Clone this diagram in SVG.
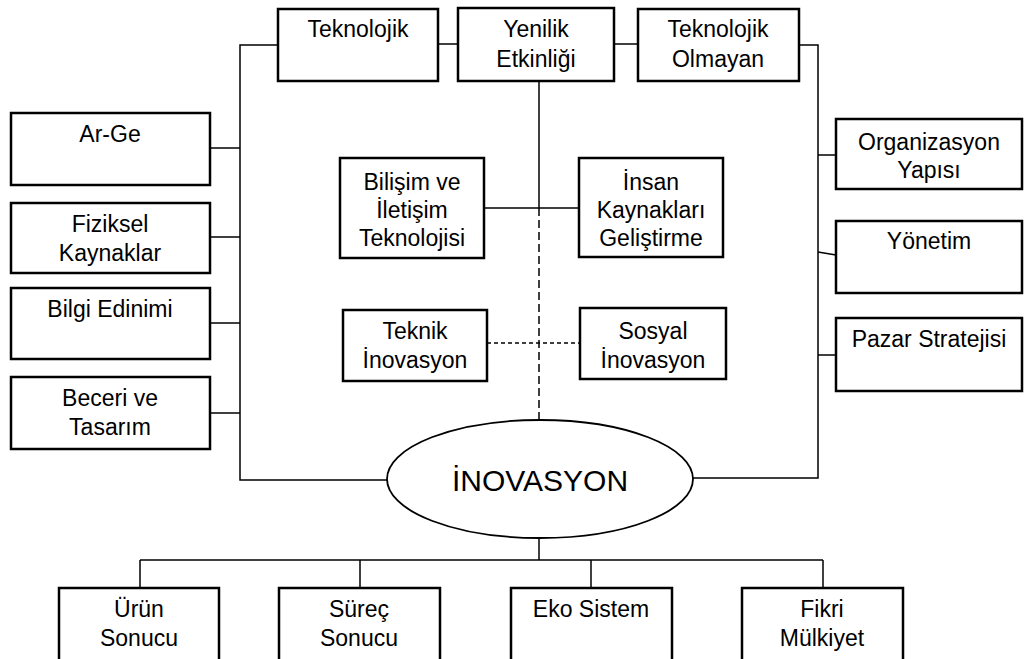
<svg xmlns="http://www.w3.org/2000/svg" width="1027" height="659" viewBox="0 0 1027 659">
  <style>
    .box { fill: #ffffff; stroke: #000000; stroke-width: 2.5; }
    .oval { fill: #ffffff; stroke: #000000; stroke-width: 1.8; }
    .lbl { font-family: "Liberation Sans", Arial, sans-serif; font-size: 23px; fill: #000000; text-anchor: middle; }
    .big { font-size: 30px; }
    .wire { fill: none; stroke: #000000; stroke-width: 1.5; }
    .dash-long { stroke-dasharray: 8 4; }
    .dash-short { stroke-dasharray: 4 3; }
  </style>

  <rect width="1027" height="659" fill="#ffffff"/>

  <!-- connectors -->
  <g id="connectors">
    <!-- left frame: top row to left column to the oval -->
    <path class="wire" d="M278 45 H240 V480 H387"/>
    <path class="wire" d="M438 44 H458"/>
    <path class="wire" d="M614 44 H638"/>
    <!-- right frame -->
    <path class="wire" d="M799 45 H818 V478 H693"/>
    <!-- left column branches -->
    <path class="wire" d="M210 148 H240"/>
    <path class="wire" d="M210 237 H240"/>
    <path class="wire" d="M210 323 H240"/>
    <path class="wire" d="M210 413 H240"/>
    <!-- right column branches -->
    <path class="wire" d="M818 155 H836"/>
    <path class="wire" d="M818 252 L836 255"/>
    <path class="wire" d="M818 355 H836"/>
    <!-- central axis -->
    <path class="wire" d="M539 81 V208"/>
    <path class="wire dash-long" d="M539 208 V420"/>
    <path class="wire" d="M484 208 H579"/>
    <path class="wire dash-short" d="M487 343 H580"/>
    <!-- outcomes bus -->
    <path class="wire" d="M539 538 V560"/>
    <path class="wire" d="M140 560 H823"/>
    <path class="wire" d="M140 560 V588"/>
    <path class="wire" d="M360 560 V588"/>
    <path class="wire" d="M591 560 V588"/>
    <path class="wire" d="M823 560 V588"/>
  </g>

  <!-- top row -->
  <g id="teknolojik">
    <rect class="box" x="278" y="9" width="160" height="72"/>
    <text class="lbl" x="358" y="37">Teknolojik</text>
  </g>
  <g id="yenilik-etkinligi">
    <rect class="box" x="458" y="8" width="156" height="73"/>
    <text class="lbl" x="536" y="37">Yenilik</text>
    <text class="lbl" x="536" y="67">Etkinliği</text>
  </g>
  <g id="teknolojik-olmayan">
    <rect class="box" x="638" y="9" width="161" height="72"/>
    <text class="lbl" x="718" y="37">Teknolojik</text>
    <text class="lbl" x="718" y="67">Olmayan</text>
  </g>

  <!-- left column -->
  <g id="ar-ge">
    <rect class="box" x="11" y="113" width="199" height="72"/>
    <text class="lbl" x="110" y="142">Ar-Ge</text>
  </g>
  <g id="fiziksel-kaynaklar">
    <rect class="box" x="11" y="203" width="199" height="70"/>
    <text class="lbl" x="110" y="232">Fiziksel</text>
    <text class="lbl" x="110" y="261">Kaynaklar</text>
  </g>
  <g id="bilgi-edinimi">
    <rect class="box" x="11" y="288" width="199" height="71"/>
    <text class="lbl" x="110" y="317">Bilgi Edinimi</text>
  </g>
  <g id="beceri-tasarim">
    <rect class="box" x="11" y="377" width="199" height="72"/>
    <text class="lbl" x="110" y="406">Beceri ve</text>
    <text class="lbl" x="110" y="435">Tasarım</text>
  </g>

  <!-- right column -->
  <g id="organizasyon-yapisi">
    <rect class="box" x="836" y="119" width="186" height="70"/>
    <text class="lbl" x="929" y="150">Organizasyon</text>
    <text class="lbl" x="929" y="178">Yapısı</text>
  </g>
  <g id="yonetim">
    <rect class="box" x="836" y="221" width="186" height="72"/>
    <text class="lbl" x="929" y="249">Yönetim</text>
  </g>
  <g id="pazar-stratejisi">
    <rect class="box" x="836" y="318" width="186" height="73"/>
    <text class="lbl" x="929" y="347">Pazar Stratejisi</text>
  </g>

  <!-- centre -->
  <g id="bilisim-iletisim">
    <rect class="box" x="340" y="158" width="144" height="100"/>
    <text class="lbl" x="412" y="190">Bilişim ve</text>
    <text class="lbl" x="412" y="218">İletişim</text>
    <text class="lbl" x="412" y="246">Teknolojisi</text>
  </g>
  <g id="insan-kaynaklari">
    <rect class="box" x="579" y="158" width="144" height="99"/>
    <text class="lbl" x="651" y="190">İnsan</text>
    <text class="lbl" x="651" y="218">Kaynakları</text>
    <text class="lbl" x="651" y="246">Geliştirme</text>
  </g>
  <g id="teknik-inovasyon">
    <rect class="box" x="343" y="310" width="144" height="71"/>
    <text class="lbl" x="415" y="339">Teknik</text>
    <text class="lbl" x="415" y="368">İnovasyon</text>
  </g>
  <g id="sosyal-inovasyon">
    <rect class="box" x="580" y="308" width="146" height="71"/>
    <text class="lbl" x="653" y="339">Sosyal</text>
    <text class="lbl" x="653" y="368">İnovasyon</text>
  </g>

  <!-- core -->
  <g id="inovasyon">
    <ellipse class="oval" cx="540" cy="479" rx="153" ry="59"/>
    <text class="lbl big" x="540" y="491">İNOVASYON</text>
  </g>

  <!-- outcomes -->
  <g id="urun-sonucu">
    <rect class="box" x="59" y="588" width="160" height="90"/>
    <text class="lbl" x="139" y="617">Ürün</text>
    <text class="lbl" x="139" y="646">Sonucu</text>
  </g>
  <g id="surec-sonucu">
    <rect class="box" x="279" y="588" width="161" height="90"/>
    <text class="lbl" x="359" y="617">Süreç</text>
    <text class="lbl" x="359" y="646">Sonucu</text>
  </g>
  <g id="eko-sistem">
    <rect class="box" x="511" y="588" width="161" height="90"/>
    <text class="lbl" x="591" y="617">Eko Sistem</text>
  </g>
  <g id="fikri-mulkiyet">
    <rect class="box" x="742" y="588" width="161" height="90"/>
    <text class="lbl" x="822" y="617">Fikri</text>
    <text class="lbl" x="822" y="646">Mülkiyet</text>
  </g>
</svg>
